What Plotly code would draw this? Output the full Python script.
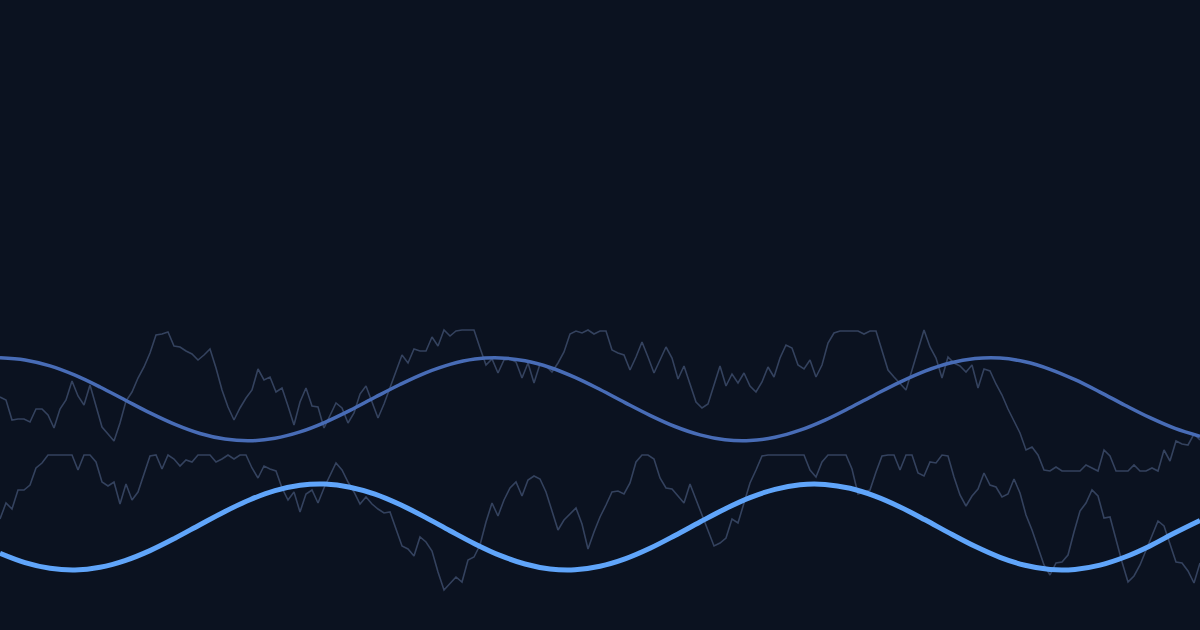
import plotly.graph_objects as go

# Screen-space vertical scale (0 at top, 630 at bottom)
noise_upper = [397,400,420,419,419,422,409,409,415,428,
               409,400,381,396,405,385,406,427,434,441,
               423,401,392,378,367,353,335,334,332,346,
               347,351,354,360,355,349,368,390,407,420,
               408,398,390,369,380,377,392,388,406,425,
               402,388,406,407,428,416,403,408,423,413,
               394,386,402,418,404,388,370,355,363,349,
               351,351,337,346,330,336,331,330,330,330,
               348,365,359,373,360,359,362,378,363,383,
               364,366,372,363,352,334,331,333,330,334,
               331,331,350,353,355,370,357,342,357,373,
               360,347,358,379,366,385,402,408,404,385,
               366,386,374,383,373,386,392,382,367,377,
               358,345,348,365,369,360,377,365,343,333,
               331,331,331,331,334,331,331,350,370,377,
               383,390,370,350,330,347,358,378,357,363,
               366,372,365,388,369,371,384,395,409,421,
               433,450,447,455,470,471,467,471,471,471,
               471,465,468,471,450,456,471,471,471,465,
               471,471,468,471,450,461,441,444,445,434,440]

noise_lower = [519,503,509,490,490,485,468,463,455,455,
               455,455,455,470,455,455,462,482,486,482,
               504,484,500,492,474,456,455,469,455,459,
               466,460,462,455,455,455,462,459,455,459,
               455,455,468,478,466,469,471,488,500,492,
               512,494,490,503,488,475,463,470,482,492,
               504,497,504,509,513,512,528,546,549,556,
               537,542,551,572,590,583,577,582,560,557,
               545,522,503,516,500,488,482,496,480,476,
               479,492,512,530,520,514,508,524,549,532,
               517,505,492,491,494,483,462,455,455,459,
               478,488,489,496,503,484,500,514,530,546,
               543,538,519,523,503,483,470,456,455,455,
               455,455,455,455,455,470,477,462,455,455,
               455,455,469,494,492,490,472,456,455,455,
               470,455,455,473,476,462,463,455,456,477,
               495,506,496,489,473,485,487,497,494,479,
               493,515,530,548,565,575,563,562,555,532,
               511,503,490,496,518,517,540,562,582,576,
               565,550,535,521,526,545,562,563,571,583,563]

wave_upper = [357.8,359.9,365.9,375.2,387.0,400.0,412.9,424.4,433.5,439.1,
              440.8,438.3,431.9,422.3,410.4,397.3,384.5,373.1,364.4,359.1,
              357.9,360.8,367.5,377.4,389.5,402.6,415.3,426.5,434.9,439.8,
              440.6,437.3,430.2,420.1,407.8,394.7,382.1,371.1,363.0,358.6,
              358.1,361.8,369.3,379.7,392.1,405.2,417.7,428.4,436.2]

wave_lower = [553.3,562.6,568.3,570.0,567.3,560.6,550.6,538.2,524.7,511.4,
              499.7,490.7,485.3,484.1,487.2,494.2,504.6,517.1,530.7,543.9,
              555.4,564.0,569.0,569.8,566.3,558.9,548.3,535.5,522.0,508.9,
              497.6,489.3,484.7,484.4,488.3,496.1,506.9,519.8,533.4,546.3,
              557.3,565.3,569.5,569.4,565.1,557.0,545.9,532.8,520.5]

noise_x = list(range(0, 1201, 6))
wave_x = list(range(0, 1201, 25))

BG = "#0b1220"
NOISE = "#34425e"

fig = go.Figure()
fig.add_trace(go.Scatter(x=noise_x, y=noise_upper, mode="lines",
                         line=dict(color=NOISE, width=1.6), hoverinfo="skip"))
fig.add_trace(go.Scatter(x=noise_x, y=noise_lower, mode="lines",
                         line=dict(color=NOISE, width=1.6), hoverinfo="skip"))
fig.add_trace(go.Scatter(x=wave_x, y=wave_upper, mode="lines",
                         line=dict(color="#486cb6", width=3.5, shape="spline"),
                         hoverinfo="skip"))
fig.add_trace(go.Scatter(x=wave_x, y=wave_lower, mode="lines",
                         line=dict(color="#60a5fa", width=5, shape="spline"),
                         hoverinfo="skip"))

fig.update_layout(
    width=1200, height=630,
    margin=dict(l=0, r=0, t=0, b=0, pad=0),
    paper_bgcolor=BG, plot_bgcolor=BG,
    showlegend=False,
    xaxis=dict(range=[0, 1200], visible=False, fixedrange=True),
    yaxis=dict(range=[630, 0], visible=False, fixedrange=True),
)

fig.write_html("out.html", config={"displayModeBar": False},
               post_script="document.body.style.margin='0';document.body.style.background='#0b1220';")
